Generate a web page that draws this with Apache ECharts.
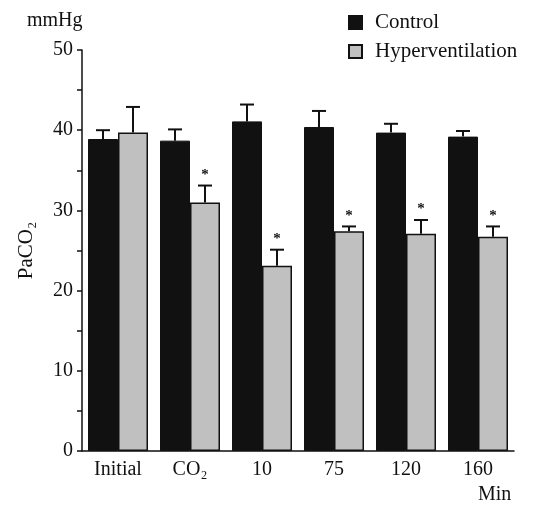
<!DOCTYPE html>
<html lang="en">
<head>
    <meta charset="UTF-8">
    <title>PaCO2</title>
    <style>
        body { margin: 0; background: #fff; }
    </style>
</head>
<body>
<script src="https://cdn.jsdelivr.net/npm/echarts@6/dist/echarts.min.js"></script>
<div id="main" style="width: 539px;height:507px;"></div>
<script type="text/javascript">
    // data
    var categories = ['Initial', 'CO₂', '10', '75', '120', '160'];
    var control = [38.9, 38.7, 41.1, 40.4, 39.7, 39.2];
    var controlSD = [1.1, 1.4, 2.1, 2.0, 1.1, 0.7];
    var hyper = [39.7, 31.0, 23.1, 27.4, 27.1, 26.7];
    var hyperSD = [3.2, 2.1, 2.0, 0.6, 1.7, 1.3];
    var hyperSig = [0, 1, 1, 1, 1, 1];
    var yTicks = [0, 10, 20, 30, 40, 50];

    var FONT = "'Liberation Serif', 'DejaVu Serif', serif";
    var BAR_W = 30;

    var myChart = echarts.init(document.getElementById('main'));

    function errData(vals, sds, sig) {
        return vals.map(function (v, i) { return [i, v, sds[i], sig ? sig[i] : 0]; });
    }

    // error bar (upper only) + significance star
    function errRender(side) {
        return function (params, api) {
            var i = api.value(0), m = api.value(1), sd = api.value(2), star = api.value(3);
            var base = api.coord([i, m]);
            var top = api.coord([i, m + sd]);
            var x = base[0] + side * BAR_W / 2;
            var st = { stroke: '#111', lineWidth: 2 };
            var kids = [
                { type: 'line', shape: { x1: x, y1: base[1], x2: x, y2: top[1] }, style: st },
                { type: 'line', shape: { x1: x - 7, y1: top[1], x2: x + 7, y2: top[1] }, style: st }
            ];
            if (star) {
                kids.push({
                    type: 'text',
                    style: {
                        text: '*', x: x, y: top[1] - 3,
                        align: 'center', verticalAlign: 'bottom',
                        font: 'bold 15px ' + FONT, fill: '#111'
                    }
                });
            }
            return { type: 'group', children: kids };
        };
    }

    var option = {
        animation: false,
        backgroundColor: '#fff',
        textStyle: { fontFamily: FONT, color: '#111' },
        grid: { left: 82, right: 25, top: 50, bottom: 56 },
        legend: {
            data: ['Control', 'Hyperventilation'],
            orient: 'vertical',
            left: 343,
            top: 7,
            icon: 'rect',
            itemWidth: 13,
            itemHeight: 13,
            itemGap: 8,
            textStyle: { fontFamily: FONT, fontSize: 21, color: '#111', padding: [0, 0, 0, 8] }
        },
        graphic: [
            { type: 'text', left: 27, top: 11, style: { text: 'mmHg', font: '20px ' + FONT, fill: '#111' } },
            { type: 'text', left: 478, top: 485, style: { text: 'Min', font: '20px ' + FONT, fill: '#111' } }
        ],
        xAxis: {
            type: 'category',
            data: categories,
            axisLine: { lineStyle: { color: '#111', width: 1.5 } },
            axisTick: { length: 5, lineStyle: { color: '#111', width: 1.5 } },
            axisLabel: { color: '#111', fontFamily: FONT, fontSize: 20, margin: 9 }
        },
        yAxis: {
            type: 'value',
            min: 0,
            max: 50,
            interval: 5,
            name: 'PaCO₂',
            nameLocation: 'middle',
            nameRotate: 90,
            nameGap: 45,
            nameTextStyle: { fontFamily: FONT, fontSize: 21, color: '#111' },
            splitLine: { show: false },
            axisLine: { show: true, lineStyle: { color: '#111', width: 1.5 } },
            axisTick: { show: true, length: 5, lineStyle: { color: '#111', width: 1.5 } },
            axisLabel: {
                color: '#111', fontFamily: FONT, fontSize: 20, margin: 9,
                formatter: function (v) { return yTicks.indexOf(v) >= 0 ? String(v) : ''; }
            }
        },
        series: [
            {
                name: 'Control',
                type: 'bar',
                data: control,
                barWidth: BAR_W,
                barGap: '0%',
                itemStyle: { color: '#111', borderColor: '#111', borderWidth: 1 }
            },
            {
                name: 'Hyperventilation',
                type: 'bar',
                data: hyper,
                barWidth: BAR_W,
                itemStyle: { color: '#c0c0c0', borderColor: '#111', borderWidth: 1.5 }
            },
            {
                name: 'controlErr',
                type: 'custom',
                data: errData(control, controlSD),
                renderItem: errRender(-1),
                z: 5
            },
            {
                name: 'hyperErr',
                type: 'custom',
                data: errData(hyper, hyperSD, hyperSig),
                renderItem: errRender(1),
                z: 5
            }
        ]
    };

    myChart.setOption(option);
</script>
</body>
</html>
